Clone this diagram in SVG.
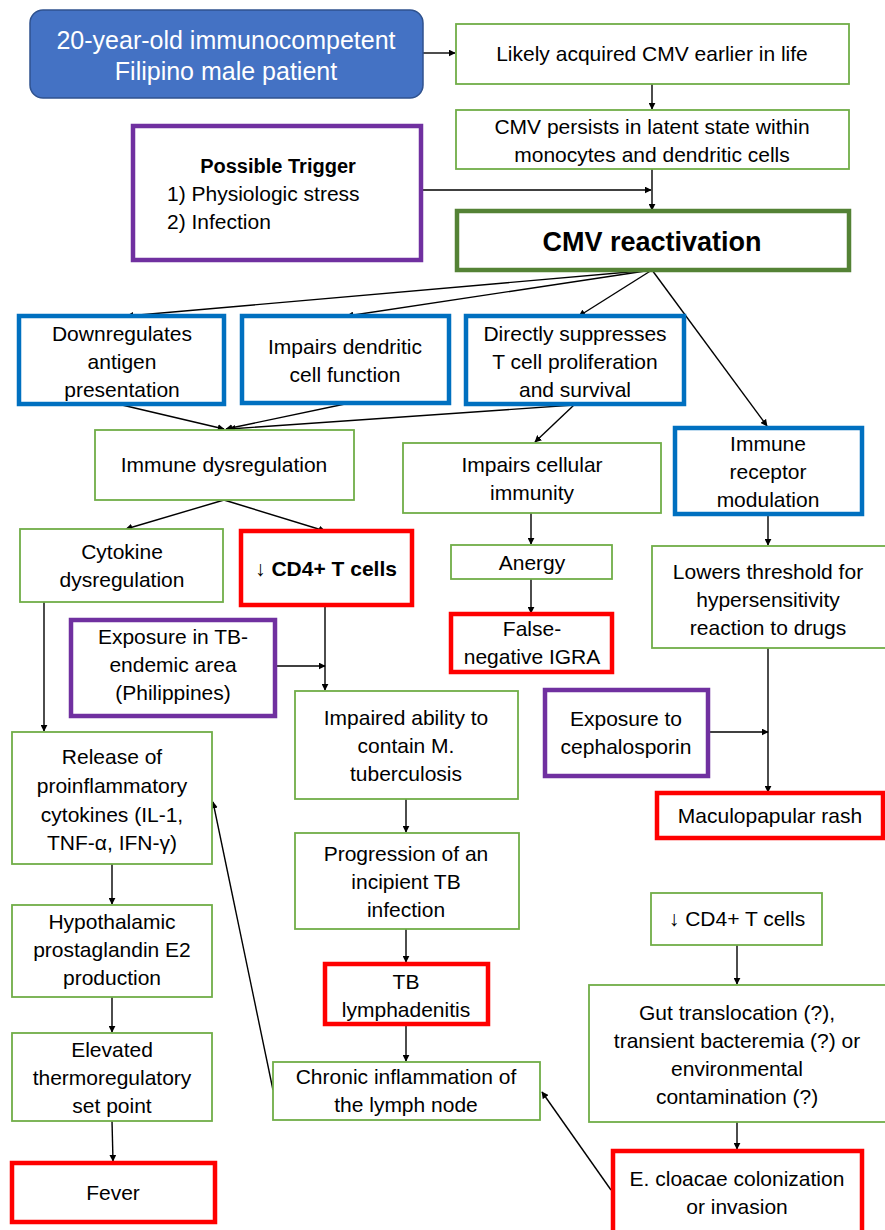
<svg xmlns="http://www.w3.org/2000/svg" width="885" height="1230" viewBox="0 0 885 1230">
<style>
text{font-family:"Liberation Sans",Arial,sans-serif;font-size:21px;fill:#000;text-anchor:middle}
.g{fill:#fff;stroke:#70AD47;stroke-width:1.8}
.b{fill:#fff;stroke:#0070C0;stroke-width:4.5}
.p{fill:#fff;stroke:#7030A0;stroke-width:4.5}
.r{fill:#fff;stroke:#FF0000;stroke-width:4.5}
.c line{stroke:#000;stroke-width:1.4;marker-end:url(#a)}
</style>
<defs>
<marker id="a" viewBox="0 0 10 10" refX="9" refY="5" markerWidth="7" markerHeight="7" orient="auto" markerUnits="userSpaceOnUse">
<path d="M0,0 L10,5 L0,10 z" fill="#000"/>
</marker>
</defs>
<g class="c" id="connectors">
<line x1="423" y1="53" x2="455" y2="53"/>
<line x1="652" y1="84" x2="652" y2="109"/>
<line x1="421" y1="190" x2="651" y2="190"/>
<line x1="652" y1="169" x2="652" y2="210"/>
<line x1="652" y1="270" x2="127" y2="316"/>
<line x1="652" y1="270" x2="347" y2="316"/>
<line x1="652" y1="270" x2="579" y2="316"/>
<line x1="652" y1="270" x2="767" y2="426"/>
<line x1="122" y1="405" x2="224" y2="429"/>
<line x1="345" y1="404" x2="226" y2="429"/>
<line x1="574" y1="405" x2="229" y2="429"/>
<line x1="574" y1="405" x2="535" y2="442"/>
<line x1="531" y1="513" x2="531" y2="544"/>
<line x1="531" y1="579" x2="531" y2="613"/>
<line x1="224" y1="500" x2="126" y2="529"/>
<line x1="224" y1="500" x2="325" y2="531"/>
<line x1="275" y1="666" x2="325" y2="666"/>
<line x1="325" y1="605" x2="325" y2="690"/>
<line x1="44" y1="602" x2="44" y2="731"/>
<line x1="406" y1="799" x2="406" y2="832"/>
<line x1="406" y1="929" x2="406" y2="962"/>
<line x1="406" y1="1024" x2="406" y2="1061"/>
<line x1="273" y1="1090" x2="213" y2="802"/>
<line x1="112" y1="864" x2="112" y2="904"/>
<line x1="112" y1="997" x2="112" y2="1032"/>
<line x1="112" y1="1121" x2="113" y2="1161"/>
<line x1="768" y1="514" x2="768" y2="545"/>
<line x1="768" y1="648" x2="768" y2="792"/>
<line x1="708" y1="732" x2="768" y2="732"/>
<line x1="737" y1="945" x2="737" y2="984"/>
<line x1="737" y1="1122" x2="737" y2="1149"/>
<line x1="611" y1="1190" x2="542" y2="1092"/>
</g>
<g id="patient">
<rect x="30" y="10" width="393" height="88" rx="13" fill="#4472C4" stroke="#2F528F" stroke-width="1.5"/>
<text x="226" y="49" style="fill:#fff;font-size:25px">20-year-old immunocompetent</text>
<text x="226" y="80" style="fill:#fff;font-size:25px">Filipino male patient</text>
</g>
<g id="acquired">
<rect class="g" x="456" y="24" width="393" height="60"/>
<text x="652" y="61">Likely acquired CMV earlier in life</text>
</g>
<g id="latent">
<rect class="g" x="456" y="110" width="393" height="59"/>
<text x="652" y="134">CMV persists in latent state within</text>
<text x="652" y="162">monocytes and dendritic cells</text>
</g>
<g id="trigger">
<rect class="p" x="133" y="126" width="288" height="134"/>
<text x="278" y="173" style="font-weight:bold;font-size:20px">Possible Trigger</text>
<text x="167" y="201" style="text-anchor:start">1) Physiologic stress</text>
<text x="167" y="229" style="text-anchor:start">2) Infection</text>
</g>
<g id="reactivation">
<rect x="457" y="211" width="392" height="59" fill="#fff" stroke="#548235" stroke-width="4.5"/>
<text x="652" y="251" style="font-weight:bold;font-size:27px">CMV reactivation</text>
</g>
<g id="downregulates">
<rect class="b" x="19" y="316" width="205" height="88"/>
<text x="122" y="341">Downregulates</text>
<text x="122" y="369">antigen</text>
<text x="122" y="397">presentation</text>
</g>
<g id="dendritic">
<rect class="b" x="242" y="316" width="207" height="87"/>
<text x="345" y="354">Impairs dendritic</text>
<text x="345" y="382">cell function</text>
</g>
<g id="suppresses">
<rect class="b" x="466" y="316" width="218" height="88"/>
<text x="575" y="341">Directly suppresses</text>
<text x="575" y="369">T cell proliferation</text>
<text x="575" y="397">and survival</text>
</g>
<g id="receptor">
<rect class="b" x="675" y="428" width="187" height="86"/>
<text x="768" y="451">Immune</text>
<text x="768" y="479">receptor</text>
<text x="768" y="507">modulation</text>
</g>
<g id="dysregulation">
<rect class="g" x="95" y="430" width="259" height="70"/>
<text x="224" y="472">Immune dysregulation</text>
</g>
<g id="cellular">
<rect class="g" x="403" y="443" width="258" height="70"/>
<text x="532" y="472">Impairs cellular</text>
<text x="532" y="500">immunity</text>
</g>
<g id="anergy">
<rect class="g" x="451" y="545" width="161" height="34"/>
<text x="532" y="570">Anergy</text>
</g>
<g id="igra">
<rect class="r" x="451" y="614" width="161" height="58"/>
<text x="532" y="636">False-</text>
<text x="532" y="664">negative IGRA</text>
</g>
<g id="cytokine">
<rect class="g" x="20" y="529" width="203" height="73"/>
<text x="122" y="559">Cytokine</text>
<text x="122" y="587">dysregulation</text>
</g>
<g id="cd4a">
<rect class="r" x="241" y="531" width="171" height="74"/>
<text x="326" y="576" style="font-weight:bold">↓ CD4+ T cells</text>
</g>
<g id="endemic">
<rect class="p" x="71" y="620" width="204" height="96"/>
<text x="173" y="644">Exposure in TB-</text>
<text x="173" y="672">endemic area</text>
<text x="173" y="700">(Philippines)</text>
</g>
<g id="impaired">
<rect class="g" x="295" y="691" width="223" height="108"/>
<text x="406" y="725">Impaired ability to</text>
<text x="406" y="753">contain M.</text>
<text x="406" y="781">tuberculosis</text>
</g>
<g id="release">
<rect class="g" x="12" y="732" width="200" height="132"/>
<text x="112" y="764">Release of</text>
<text x="112" y="793">proinflammatory</text>
<text x="112" y="822">cytokines (IL-1,</text>
<text x="112" y="850">TNF-α, IFN-γ)</text>
</g>
<g id="progression">
<rect class="g" x="295" y="833" width="224" height="96"/>
<text x="406" y="861">Progression of an</text>
<text x="406" y="889">incipient TB</text>
<text x="406" y="917">infection</text>
</g>
<g id="lymphadenitis">
<rect class="r" x="325" y="964" width="163" height="60"/>
<text x="406" y="989">TB</text>
<text x="406" y="1017">lymphadenitis</text>
</g>
<g id="chronic">
<rect class="g" x="273" y="1062" width="267" height="58"/>
<text x="406" y="1084">Chronic inflammation of</text>
<text x="406" y="1112">the lymph node</text>
</g>
<g id="hypothalamic">
<rect class="g" x="12" y="905" width="200" height="92"/>
<text x="112" y="929">Hypothalamic</text>
<text x="112" y="957">prostaglandin E2</text>
<text x="112" y="985">production</text>
</g>
<g id="elevated">
<rect class="g" x="12" y="1033" width="200" height="88"/>
<text x="112" y="1057">Elevated</text>
<text x="112" y="1085">thermoregulatory</text>
<text x="112" y="1113">set point</text>
</g>
<g id="fever">
<rect class="r" x="12" y="1163" width="203" height="59"/>
<text x="113" y="1200">Fever</text>
</g>
<g id="threshold">
<rect class="g" x="652" y="546" width="235" height="102"/>
<text x="768" y="579">Lowers threshold for</text>
<text x="768" y="607">hypersensitivity</text>
<text x="768" y="635">reaction to drugs</text>
</g>
<g id="cephalosporin">
<rect class="p" x="545" y="690" width="163" height="86"/>
<text x="626" y="726">Exposure to</text>
<text x="626" y="754">cephalosporin</text>
</g>
<g id="rash">
<rect class="r" x="657" y="793" width="226" height="45"/>
<text x="770" y="823">Maculopapular rash</text>
</g>
<g id="cd4b">
<rect class="g" x="651" y="893" width="171" height="52"/>
<text x="737" y="926">↓ CD4+ T cells</text>
</g>
<g id="gut">
<rect class="g" x="589" y="985" width="298" height="137"/>
<text x="737" y="1020">Gut translocation (?),</text>
<text x="737" y="1048">transient bacteremia (?) or</text>
<text x="737" y="1076">environmental</text>
<text x="737" y="1104">contamination (?)</text>
</g>
<g id="cloacae">
<rect class="r" x="613" y="1151" width="249" height="85"/>
<text x="737" y="1186">E. cloacae colonization</text>
<text x="737" y="1214">or invasion</text>
</g>
</svg>
